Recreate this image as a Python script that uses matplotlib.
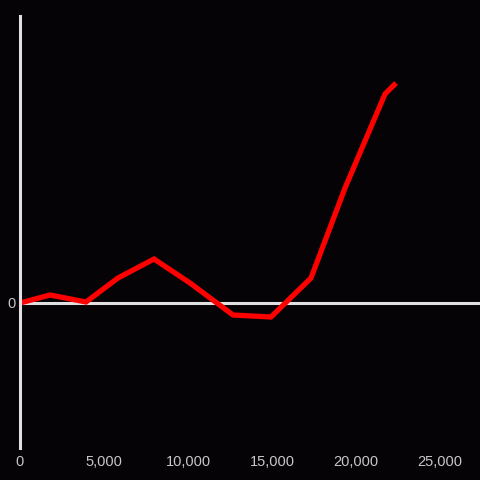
import matplotlib
matplotlib.use("Agg")
from matplotlib import pyplot as plt
from matplotlib.ticker import FuncFormatter

"""
Single red line on a dark background, zero baseline
"""

x_values = [0, 1786, 3929, 5833, 7976, 10119, 12679, 14940, 17321, 19345, 21726, 22381]
y_values = [0, 8, 1, 25, 44, 20, -12, -14, 25, 115, 209, 220]
x_ticks = [0, 5000, 10000, 15000, 20000, 25000]
y_ticks = [0]

BG = "#050305"
AXIS = "#e0e0e0"
TEXT = "#c8c8c8"


def draw():
    plt.rcParams['font.family'] = ['Liberation Sans', 'DejaVu Sans']
    fig = plt.figure(figsize=(4.8, 4.8), dpi=100, facecolor=BG)
    ax = fig.add_axes([20 / 480, 32 / 480, 460 / 480, 432 / 480], facecolor=BG)

    ax.axhline(0, color=AXIS, linewidth=2.2, zorder=1)
    ax.plot(x_values, y_values, color="#ff0000", linewidth=3.8,
            solid_joinstyle="miter", solid_capstyle="butt", zorder=2)

    ax.set_xlim(0, 27380)
    ax.set_ylim(-145, 287)

    for side in ["top", "right", "bottom"]:
        ax.spines[side].set_visible(False)
    ax.spines["left"].set_color(AXIS)
    ax.spines["left"].set_linewidth(2.2)

    ax.set_xticks(x_ticks)
    ax.xaxis.set_major_formatter(FuncFormatter(lambda v, p: "{:,.0f}".format(v)))
    ax.set_yticks(y_ticks)
    ax.tick_params(axis="both", length=0, colors=TEXT, labelsize=10.5)
    ax.tick_params(axis="x", pad=5)
    ax.tick_params(axis="y", pad=3)

    fig.savefig("out.png", dpi=100, facecolor=BG)


if __name__ == '__main__':
    draw()
